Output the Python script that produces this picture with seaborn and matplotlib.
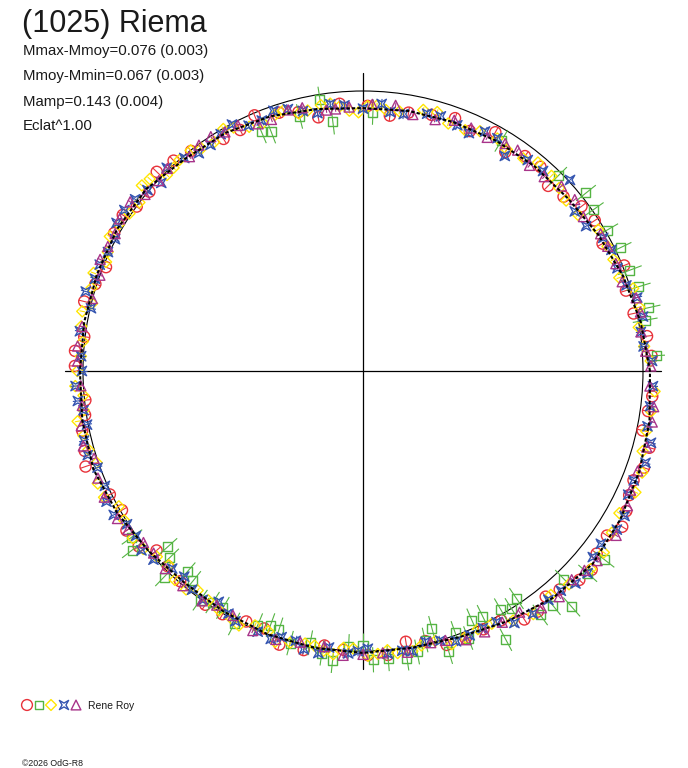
import numpy as np
import matplotlib
matplotlib.use("Agg")
import matplotlib.pyplot as plt
from matplotlib.path import Path
from matplotlib.patches import Circle
from matplotlib.collections import LineCollection
import seaborn as sns

# ---------------- data ----------------
title = "(1025) Riema"
stats_lines = ["Mmax-Mmoy=0.076 (0.003)", "Mmoy-Mmin=0.067 (0.003)",
               "Mamp=0.143 (0.004)", "Eclat^1.00"]
observer = "Rene Roy"
footer = "\u00a92026 OdG-R8"

# fitted curve: angle (deg) and radius relative to reference circle
fit_angle = [0, 10, 20, 30, 40, 50, 60, 70, 80, 90, 100, 110, 120, 130, 140, 150, 160, 170,
             180, 190, 200, 210, 220, 230, 240, 250, 260, 270, 280, 290, 300, 310, 320, 330,
             340, 350, 360]
fit_radius = [1.025, 1.007, 0.989, 0.971, 0.957, 0.954, 0.950, 0.946, 0.943, 0.939, 0.950,
              0.968, 0.982, 0.989, 1.011, 1.014, 1.011, 1.011, 1.011, 1.018, 1.025, 1.014,
              1.000, 0.989, 0.993, 1.000, 1.004, 1.007, 1.004, 1.011, 1.032, 1.057, 1.071,
              1.061, 1.050, 1.039, 1.025]

# session 1 (red circles)
s1_angle = [3, 12, 22, 28, 37, 45, 53, 61, 66, 75, 84, 95, 104, 113, 121, 128, 136, 144, 151,
            158, 166, 173, 179, 186, 192, 199, 206, 214, 221, 229, 236, 245, 253, 262, 271,
            279, 287, 295, 303, 309, 316, 322, 329, 335, 341, 348, 355,
            7, 17, 33, 41, 49, 57, 70, 80, 89, 100, 108, 117, 132, 140, 147, 162, 176, 189,
            196, 210, 218, 225, 240, 249, 258, 266, 275, 283, 291, 299, 306, 312, 319, 326,
            332, 338, 345, 352]
s1_radius = [1.032, 0.988, 1.006, 0.969, 0.977, 0.935, 0.961, 0.975, 0.938, 0.947, 0.917,
             0.958, 0.953, 0.992, 0.967, 0.997, 1.024, 0.999, 1.016, 0.990, 1.026, 1.003,
             1.029, 0.997, 1.025, 1.048, 1.006, 1.019, 0.977, 0.995, 1.007, 0.987, 1.022,
             0.990, 1.015, 0.979, 1.023, 1.018, 1.058, 1.037, 1.074, 1.059, 1.080, 1.049,
             1.061, 1.021, 1.037,
             1.022, 0.982, 0.987, 0.949, 0.966, 0.933, 0.961, 0.937, 0.947, 0.920, 0.970,
             0.966, 1.011, 0.996, 1.023, 1.005, 1.031, 1.005, 1.034, 0.994, 1.017, 0.986,
             1.003, 0.985, 1.019, 0.998, 1.018, 0.990, 1.023, 1.018, 1.062, 1.050, 1.082,
             1.051, 1.065, 1.042, 1.059, 1.028]
s1_err = 0.020

# session 2 (green squares)
s2_angle = [10.2, 12.5, 20.7, 25.6, 30, 38.6, 59, 87.8, 96.9, 99, 111, 113, 215.7, 217.8, 222,
            224, 228.8, 234.6, 237, 239.4, 247.5, 250, 255, 259, 261.7, 270, 272, 278.7, 280.9,
            283, 285, 289.4, 291.5, 293.6, 296, 298, 300, 304, 309, 311.5, 318,
            226, 231, 243, 252, 264, 267, 275, 287, 302, 306, 314, 322, 3, 17, 35, 45, 104]
s2_radius = [1.024, 1.043, 1.019, 1.018, 1.007, 1.019, 0.959, 0.925, 0.896, 0.983, 0.916,
             0.929, 1.016, 1.044, 0.938, 0.959, 0.954, 1.004, 0.986, 0.983, 0.982, 0.966,
             1.006, 0.989, 1.018, 0.979, 1.032, 1.037, 1.022, 0.986, 0.951, 0.992, 1.025,
             0.971, 0.975, 1.087, 0.983, 0.980, 1.076, 1.125, 1.080,
             1.023, 0.965, 1.014, 0.971, 1.040, 0.986, 1.031, 1.049, 1.002, 1.077, 1.033,
             1.094, 1.050, 1.029, 1.004, 0.985, 0.937]
s2_err = 0.045

# session 3 (yellow diamonds)
s3_angle = [2, 9, 17, 24, 31, 36, 43, 50, 57, 64, 71, 77, 82, 87, 91, 95, 99, 104, 109, 115,
            120, 126, 131, 135, 140, 146, 152, 157, 163, 168, 174, 180, 185, 190, 196, 203,
            209, 216, 222, 228, 233, 239, 244, 250, 255, 260, 264, 268, 273, 277, 282, 288,
            294, 301, 310, 319, 327, 336, 344, 352,
            5, 13, 20, 27, 40, 46, 53, 60, 67, 74, 85, 89, 93, 97, 102, 107, 112, 118, 123,
            128, 133, 138, 143, 149, 155, 160, 166, 171, 177, 183, 188, 193, 199, 206, 212,
            219, 225, 231, 236, 242, 247, 252, 258, 262, 266, 271, 275, 280, 285, 291, 297,
            305, 314, 323, 331, 340, 348, 356]
s3_radius = [1.028, 0.997, 1.009, 0.979, 0.980, 0.949, 0.958, 0.972, 0.943, 0.953, 0.935,
             0.957, 0.936, 0.949, 0.924, 0.949, 0.961, 0.948, 0.967, 0.962, 0.998, 0.982,
             0.999, 0.990, 1.031, 1.006, 1.024, 0.997, 1.014, 1.025, 1.006, 1.020, 1.002,
             1.035, 1.020, 1.029, 0.997, 1.016, 0.991, 1.004, 0.981, 0.997, 1.011, 0.989,
             1.004, 0.996, 1.017, 0.992, 1.012, 1.015, 1.002, 1.026, 1.009, 1.040, 1.044,
             1.078, 1.060, 1.065, 1.039, 1.039,
             1.008, 1.013, 0.974, 0.980, 0.947, 0.969, 0.951, 0.959, 0.934, 0.962, 0.936,
             0.946, 0.931, 0.962, 0.951, 0.973, 0.955, 0.985, 0.975, 1.000, 0.992, 1.025,
             1.000, 1.017, 1.006, 1.024, 0.997, 1.019, 1.009, 1.029, 1.007, 1.025, 1.006,
             1.029, 1.006, 1.010, 0.981, 1.004, 0.988, 1.001, 0.987, 1.017, 0.995, 1.009,
             0.991, 1.017, 1.001, 1.016, 0.998, 1.019, 1.013, 1.060, 1.059, 1.077, 1.047,
             1.061, 1.034, 1.044]
s3_err = 0.010

# session 4 (blue stars)
s4_angle = [5, 11, 18, 26, 33, 42.7, 48, 56.6, 63, 69, 76, 81, 86, 90, 94, 100, 106, 112, 118,
            124, 130, 137, 143, 149, 155, 161, 167, 172, 177, 183, 188, 194, 200, 207, 213,
            219, 226, 232, 238, 243, 248, 253, 258, 263, 267, 271, 275, 280, 286, 292, 298,
            305, 312, 318, 324, 331, 338, 346, 353,
            2, 8, 15, 22, 29, 37, 52, 60, 66, 73, 84, 97, 103, 109, 115, 121, 127, 134, 140,
            146, 152, 158, 164, 180, 186, 191, 197, 204, 210, 216, 222, 229, 235, 241, 251,
            256, 261, 269, 278, 283, 289, 295, 301, 309, 315, 321, 328, 335, 342, 349, 357]
s4_radius = [1.006, 1.019, 0.989, 0.987, 0.950, 1.006, 0.961, 0.920, 0.960, 0.940, 0.947,
             0.929, 0.956, 0.937, 0.951, 0.935, 0.973, 0.965, 0.997, 0.974, 0.993, 0.985,
             1.019, 1.027, 1.005, 1.012, 0.997, 1.021, 1.008, 1.028, 1.008, 1.027, 1.009,
             1.028, 1.005, 1.018, 0.981, 0.991, 0.972, 1.003, 1.004, 0.994, 1.016, 0.995,
             1.010, 0.992, 1.013, 1.016, 1.002, 1.018, 1.016, 1.059, 1.056, 1.079, 1.050,
             1.068, 1.043, 1.060, 1.033,
             1.033, 1.002, 1.014, 0.980, 0.981, 0.947, 0.956, 0.960, 0.930, 0.951, 0.930,
             0.960, 0.953, 0.983, 0.967, 0.987, 0.974, 1.009, 1.005, 1.028, 1.003, 1.014,
             1.030, 1.004, 1.024, 1.004, 1.028, 1.009, 1.028, 1.002, 1.007, 0.973, 0.998,
             0.991, 1.012, 0.993, 1.020, 1.001, 1.009, 0.993, 1.021, 1.013, 1.050, 1.052,
             1.073, 1.056, 1.069, 1.045, 1.061, 1.035, 1.037]
s4_err = 0.018

# session 5 (purple triangles)
s5_angle = [1, 8, 15, 23, 30, 39, 47, 55, 62, 70, 79, 88, 93, 98, 103, 110, 117, 123, 129,
            134, 141, 148, 154, 160, 171, 178, 187, 195, 202, 211, 218, 225, 235, 242, 252,
            257, 266, 274, 284, 291, 299, 307, 315, 321, 333, 340, 350, 357,
            4, 12, 19, 27, 35, 43, 51, 58, 66, 74, 83, 96, 106, 113, 120, 126, 137, 144, 151,
            157, 165, 175, 183, 191, 198, 206, 214, 221, 230, 238, 247, 262, 270, 279, 287,
            295, 303, 311, 318, 327, 336, 345, 353]
s5_radius = [1.028, 1.003, 1.010, 0.981, 0.980, 0.973, 0.949, 0.963, 0.945, 0.953, 0.933,
             0.953, 0.944, 0.941, 0.965, 0.956, 0.984, 0.998, 0.985, 1.006, 1.002, 1.025,
             1.014, 1.000, 1.016, 1.020, 1.010, 1.034, 1.021, 1.023, 0.995, 0.998, 1.002,
             0.989, 1.008, 0.994, 1.018, 1.009, 1.000, 1.028, 1.026, 1.059, 1.054, 1.076,
             1.060, 1.044, 1.049, 1.026,
             1.012, 1.013, 0.979, 0.981, 0.961, 0.969, 0.945, 0.958, 0.950, 0.934, 0.956,
             0.941, 0.970, 0.959, 0.986, 0.997, 0.997, 1.028, 1.012, 1.020, 1.001, 1.023,
             1.009, 1.025, 1.010, 1.028, 1.012, 0.991, 1.001, 0.986, 1.007, 0.994, 1.012,
             1.017, 1.006, 1.028, 1.027, 1.068, 1.064, 1.078, 1.046, 1.049, 1.046]
s5_err = 0.010

# ---------------- style ----------------
sns.set_style("white")
plt.rcParams["font.family"] = ["Liberation Sans", "DejaVu Sans"]

colors = ["#e8323a", "#55b443", "#ffe600", "#3454b0", "#a8348a"]
star = Path([(1, 1), (0, 0.42), (-1, 1), (-0.42, 0), (-1, -1), (0, -0.42), (1, -1), (0.42, 0),
             (1, 1)], [Path.MOVETO] + [Path.LINETO] * 7 + [Path.CLOSEPOLY])
markers = ["o", "s", "D", star, "^"]
sizes = [64, 42, 32, 46, 52]

W, H = 688, 768
fig = plt.figure(figsize=(W / 100, H / 100), dpi=100)
cx, cy, R0 = 363, 371, 280.0
L = 1.08
half = L * R0
ax = fig.add_axes([(cx - half) / W, (H - cy - half) / H, 2 * half / W, 2 * half / H])
ax.set_xlim(-L, L)
ax.set_ylim(-L, L)
ax.axis("off")

# axes cross and reference circle
ext = 1.065
ax.plot([-ext, ext], [0, 0], color="black", lw=0.9, zorder=1)
ax.plot([0, 0], [-ext, ext], color="black", lw=0.9, zorder=1)
ax.add_patch(Circle((0, 0), 1.0, fill=False, ec="black", lw=0.8, zorder=2))

sessions = [(s1_angle, s1_radius, s1_err), (s2_angle, s2_radius, s2_err),
            (s3_angle, s3_radius, s3_err), (s4_angle, s4_radius, s4_err),
            (s5_angle, s5_radius, s5_err)]

for i, (ang, rad, err) in enumerate(sessions):
    th = np.deg2rad(np.asarray(ang, float))
    r = np.asarray(rad, float)
    x, y = r * np.cos(th), r * np.sin(th)
    segs = [[((ri - err) * np.cos(t), (ri - err) * np.sin(t)),
             ((ri + err) * np.cos(t), (ri + err) * np.sin(t))] for ri, t in zip(r, th)]
    ax.add_collection(LineCollection(segs, colors=colors[i], linewidths=0.8, zorder=3 + i))
    sns.scatterplot(x=x, y=y, marker=markers[i], s=sizes[i], color=colors[i], ax=ax,
                    legend=False, zorder=3 + i)
    coll = ax.collections[-1]
    coll.set_facecolor("none")
    coll.set_edgecolor(colors[i])
    coll.set_linewidth(1.0)

# fitted curve
fth = np.deg2rad(np.asarray(fit_angle, float))
fr = np.asarray(fit_radius, float)
ax.plot(fr * np.cos(fth), fr * np.sin(fth), color="black", lw=1.5,
        linestyle=(0, (1.6, 1.0)), zorder=10)

# ---------------- texts ----------------
fig.text(22 / W, 1 - 32 / H, title, fontsize=22, color="#1a1a1a", va="baseline")
for line, yb in zip(stats_lines, [55, 80, 106, 130]):
    fig.text(23 / W, 1 - yb / H, line, fontsize=10.8, color="#1a1a1a", va="baseline")

# legend row
lax = fig.add_axes([0, 0, 1, 1])
lax.set_xlim(0, W)
lax.set_ylim(H, 0)
lax.axis("off")
leg_x = [27, 39, 51, 64, 76]
for i in range(5):
    lax.scatter([leg_x[i]], [705], marker=markers[i], s=sizes[i] * 0.95, facecolors="none",
                edgecolors=colors[i], linewidths=1.0)
lax.text(88, 709, observer, fontsize=7.5, color="#1a1a1a", va="baseline")
lax.text(22, 766, footer, fontsize=6.3, color="#1a1a1a", va="baseline")

fig.savefig("out.png", dpi=100, facecolor="white")
